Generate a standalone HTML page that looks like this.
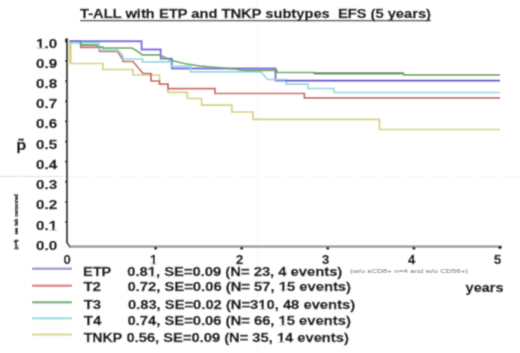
<!DOCTYPE html>
<html><head><meta charset="utf-8">
<style>
html,body{margin:0;padding:0;background:#fff;}
body{width:520px;height:353px;overflow:hidden;position:relative;}
svg{position:absolute;left:0;top:0;}
text{font-family:"Liberation Sans",sans-serif;font-weight:bold;fill:#111;white-space:pre;stroke:#111;stroke-width:0.3px;}
</style></head><body>
<svg width="520" height="353" viewBox="0 0 520 353"><defs><filter id="bl" x="0" y="0" width="520" height="353" filterUnits="userSpaceOnUse"><feConvolveMatrix order="3" kernelMatrix="0.0277 0.111 0.0277 0.111 0.4452 0.111 0.0277 0.111 0.0277" divisor="1" edgeMode="duplicate"/></filter></defs><g filter="url(#bl)"><rect width="520" height="353" fill="#fff"/>
<!-- faint dotted guides -->
<line x1="257.7" y1="0" x2="257.7" y2="353" stroke="#e2e2e2" stroke-width="1" stroke-dasharray="1 2"/>
<line x1="0" y1="176.4" x2="520" y2="176.4" stroke="#e8e8e8" stroke-width="1" stroke-dasharray="1 2"/><line x1="0" y1="176.4" x2="62" y2="176.4" stroke="#d2d2d2" stroke-width="1" stroke-dasharray="2 1.5"/>

<!-- title -->
<text id="title" x="80" y="17.8" font-size="12.5" textLength="351" lengthAdjust="spacingAndGlyphs">T-ALL with ETP and TNKP subtypes  EFS (5 years)</text>
<rect x="80" y="19.9" width="351" height="1.4" fill="#444"/>

<!-- y axis -->
<rect x="65.9" y="38" width="2.2" height="205" fill="#3a3a3a"/>
<g fill="#222">
<rect x="64.9" y="38.8" width="2.6" height="3.6"/>
<rect x="65" y="60.2" width="1.6" height="1.8"/>
<rect x="65" y="80.3" width="1.6" height="1.8"/>
<rect x="65" y="100.4" width="1.6" height="1.8"/>
<rect x="65" y="120.5" width="1.6" height="1.8"/>
<rect x="65" y="140.7" width="1.6" height="1.8"/>
<rect x="65" y="160.8" width="1.6" height="1.8"/>
<rect x="65" y="180.9" width="1.6" height="1.8"/>
<rect x="65" y="201.0" width="1.6" height="1.8"/>
<rect x="65" y="221.1" width="1.6" height="1.8"/>
</g>
<line x1="66.5" y1="242" x2="70.5" y2="247.5" stroke="#333" stroke-width="1.8"/>
<g font-size="13.2" text-anchor="end">
<text x="57.3" y="47.65" textLength="21.2" lengthAdjust="spacingAndGlyphs">1.0</text>
<text x="57.3" y="67.86" textLength="21.2" lengthAdjust="spacingAndGlyphs">0.9</text>
<text x="57.3" y="88.07" textLength="21.2" lengthAdjust="spacingAndGlyphs">0.8</text>
<text x="57.3" y="108.28" textLength="21.2" lengthAdjust="spacingAndGlyphs">0.7</text>
<text x="57.3" y="128.49" textLength="21.2" lengthAdjust="spacingAndGlyphs">0.6</text>
<text x="57.3" y="148.70" textLength="21.2" lengthAdjust="spacingAndGlyphs">0.5</text>
<text x="57.3" y="168.91" textLength="21.2" lengthAdjust="spacingAndGlyphs">0.4</text>
<text x="57.3" y="189.12" textLength="21.2" lengthAdjust="spacingAndGlyphs">0.3</text>
<text x="57.3" y="209.33" textLength="21.2" lengthAdjust="spacingAndGlyphs">0.2</text>
<text x="57.3" y="229.54" textLength="21.2" lengthAdjust="spacingAndGlyphs">0.1</text>
<text x="57.3" y="249.75" textLength="21.2" lengthAdjust="spacingAndGlyphs">0.0</text>
</g>

<!-- x axis -->
<rect x="70" y="245.4" width="432" height="2.3" fill="#999"/>
<g fill="#222">
<circle cx="155.6" cy="248.3" r="1.5"/>
<circle cx="241.7" cy="248.3" r="1.5"/>
<circle cx="327.8" cy="248.3" r="1.5"/>
<circle cx="413.9" cy="248.3" r="1.5"/>
<circle cx="500" cy="247.5" r="1.8"/>
</g>
<g font-size="13" text-anchor="middle">
<text x="67" y="264">0</text>
<text x="153.5" y="264">1</text>
<text x="239.5" y="264">2</text>
<text x="325.5" y="264">3</text>
<text x="411.5" y="264">4</text>
<text x="497.5" y="264">5</text>
</g>

<!-- curves -->
<g fill="none" stroke-width="1.7">
<path stroke="#e6e4ae" stroke-width="3.6" d="M70.1 42 V62.5"/>
<path stroke="#d6d27c" d="M70.3 41 V63.5 H102.8 V69.5 H133 V75 H159.5 V84.5 H168 V92.3 H187.4 V98.5 H201.5 V105.2 H231.8 V112 H253 V119.3 H379.5 V129.5 H500"/>
<path stroke="#c9605f" d="M69.5 41 H80.7 V47.3 H99.5 V51.5 H117.7 L123 60 V61.5 H133 L143 73.5 H151 V81 H159.5 V84 H168 V88.7 H215 V93.5 H304.4 V97.8 H500"/>
<path stroke="#7a68dc" stroke-width="1.9" d="M69.5 41.2 H141.6 V49.5 H160.7 V58.6 H172 V68.5 H275.5 V80.6 H286"/>
<path stroke="#94d8e2" d="M69.5 42.8 H99 V50 H118 L123 56 V59 H142.5 V61.8 H171 V66.3 H190.6 V71.8 H261 L267.5 79.5 H286 V84.2 H308 V88.5 H333.8 V92.5 H500"/>
<path stroke="#6aa560" d="M80.7 42 V45.2 H97 V46.8 H102.7 V48 H132.3 L140 53 L142 54.8 H159.6 L170 60 L184 63.5 L200 66 L230 68.5 L245 70.3 H277 V72.5 H314 V73.3 H403.6 V74.8 H500"/>
<path stroke="#4a8a40" d="M314.5 73.3 H403"/>
<path stroke="#4c38cc" stroke-width="1.9" d="M285.6 80.6 H500"/>
</g>

<!-- y label p -->
<text x="16.3" y="150.2" font-size="14" textLength="10" lengthAdjust="spacingAndGlyphs">p</text>
<rect x="18.3" y="138.6" width="5.6" height="2" fill="#222"/>

<!-- tiny rotated text -->
<g font-size="5.5" style="fill:#606060;stroke:none">
<text transform="translate(18.2,249.5) rotate(-90)" textLength="10" lengthAdjust="spacingAndGlyphs">(n=4)</text>
<text transform="translate(18.2,234.6) rotate(-90)" textLength="7" lengthAdjust="spacingAndGlyphs">see</text>
<text transform="translate(18.2,225.7) rotate(-90)" textLength="7" lengthAdjust="spacingAndGlyphs">tab</text>
<text transform="translate(18.2,216.8) rotate(-90)" textLength="22.8" lengthAdjust="spacingAndGlyphs">censored</text>
</g>

<!-- legend -->
<g stroke-width="2.5">
<line x1="32" y1="268.8" x2="72" y2="268.8" stroke="#a79be0"/>
<line x1="32" y1="285.8" x2="72" y2="285.8" stroke="#dc8a8e"/>
<line x1="32" y1="302.2" x2="72" y2="302.2" stroke="#8ab889"/>
<line x1="32" y1="318.2" x2="72" y2="318.2" stroke="#a8dfe6"/>
<line x1="32" y1="334.6" x2="72" y2="334.6" stroke="#dfdea2"/>
</g>
<g font-size="12.8">
<text x="83.1" y="275.8" textLength="28.1" lengthAdjust="spacingAndGlyphs">ETP</text>
<text x="127.3" y="275.8" textLength="215" lengthAdjust="spacingAndGlyphs">0.81, SE=0.09 (N= 23, 4 events)</text>
<text x="83.4" y="291.2" textLength="17.6" lengthAdjust="spacingAndGlyphs">T2</text>
<text x="127.5" y="291.2" textLength="223.5" lengthAdjust="spacingAndGlyphs">0.72, SE=0.06 (N= 57, 15 events)</text>
<text x="83.7" y="308.6" textLength="17.4" lengthAdjust="spacingAndGlyphs">T3</text>
<text x="127.9" y="308.6" textLength="227.2" lengthAdjust="spacingAndGlyphs">0.83, SE=0.02 (N=310, 48 events)</text>
<text x="83.7" y="324.8" textLength="17.6" lengthAdjust="spacingAndGlyphs">T4</text>
<text x="127.5" y="324.8" textLength="223.3" lengthAdjust="spacingAndGlyphs">0.74, SE=0.06 (N= 66, 15 events)</text>
<text x="83.7" y="341.5" textLength="38.4" lengthAdjust="spacingAndGlyphs">TNKP</text>
<text x="126.5" y="341.5" textLength="222.3" lengthAdjust="spacingAndGlyphs">0.56, SE=0.09 (N= 35, 14 events)</text>
</g>
<text x="350" y="273.1" font-size="6" style="font-weight:normal;fill:#666;stroke:none" textLength="118" lengthAdjust="spacingAndGlyphs">(w/o sCD8+ n=4 and w/o CD56+)</text>
<text x="465.6" y="292" font-size="13.5" textLength="38" lengthAdjust="spacingAndGlyphs">years</text>
<!--ONES--><g fill="#fff"><rect x="36.46" y="45.85" width="3.08" height="2.40"/><rect x="41.88" y="45.85" width="2.89" height="2.40"/><rect x="49.16" y="227.74" width="3.09" height="2.40"/><rect x="54.58" y="227.74" width="2.89" height="2.40"/><rect x="150.10" y="262.22" width="2.70" height="2.38"/><rect x="154.82" y="262.22" width="2.53" height="2.38"/><rect x="148.14" y="274.04" width="3.00" height="2.36"/><rect x="153.42" y="274.04" width="2.82" height="2.36"/><rect x="279.02" y="289.44" width="3.01" height="2.36"/><rect x="284.30" y="289.44" width="2.82" height="2.36"/><rect x="258.64" y="306.84" width="3.00" height="2.36"/><rect x="263.90" y="306.84" width="2.81" height="2.36"/><rect x="278.88" y="323.04" width="3.00" height="2.36"/><rect x="284.16" y="323.04" width="2.82" height="2.36"/><rect x="277.20" y="339.74" width="2.99" height="2.36"/><rect x="282.46" y="339.74" width="2.81" height="2.36"/></g><!--/ONES--></g></svg>
</body></html>
